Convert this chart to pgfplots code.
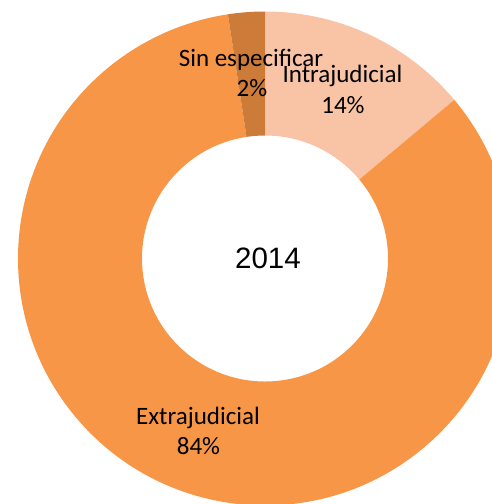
\documentclass[border=0pt]{standalone}
\usepackage{pgfplots}
\pgfplotsset{compat=1.18}
\usepackage{pgfplotstable}
\usepackage{fontspec}
\setmainfont{Carlito}
\newfontfamily\arialfont{Liberation Sans}
\definecolor{cIntra}{RGB}{249,195,166}
\definecolor{cExtra}{RGB}{247,150,70}
\definecolor{cSin}{RGB}{204,123,56}
\pgfplotstableread{
label value
Intrajudicial 13.9
Extrajudicial 83.7
Sin 2.4
}\slices
\begin{document}
\begin{tikzpicture}
\pgfplotstablegetelem{0}{value}\of\slices \let\vA\pgfplotsretval
\pgfplotstablegetelem{1}{value}\of\slices \let\vB\pgfplotsretval
\pgfplotstablegetelem{2}{value}\of\slices \let\vC\pgfplotsretval
\pgfmathsetmacro\aA{90}
\pgfmathsetmacro\aB{\aA-3.6*\vA}
\pgfmathsetmacro\aC{\aB-3.6*\vB}
\pgfmathsetmacro\aD{\aC-3.6*\vC}
\begin{axis}[
  x=1pt, y=1pt, xmin=0, xmax=492, ymin=0, ymax=504,
  hide axis, clip=true, scale only axis,
]
\addplot[draw=none] coordinates {(0,0) (492,504)};
\fill[cIntra, shift={(axis cs:265,245.5)}] (\aA:247pt) arc[start angle=\aA, end angle=\aB, radius=247pt] -- (\aB:123pt) arc[start angle=\aB, end angle=\aA, radius=123pt] -- cycle;
\fill[cExtra, shift={(axis cs:265,245.5)}] (\aB:247pt) arc[start angle=\aB, end angle=\aC, radius=247pt] -- (\aC:123pt) arc[start angle=\aC, end angle=\aB, radius=123pt] -- cycle;
\fill[cSin, shift={(axis cs:265,245.5)}] (\aC:247pt) arc[start angle=\aC, end angle=\aD, radius=247pt] -- (\aD:123pt) arc[start angle=\aD, end angle=\aC, radius=123pt] -- cycle;
\begin{scope}[every node/.style={inner sep=0pt, anchor=base, font=\fontsize{25}{30}\selectfont}]
\node at (axis cs:251,437.3) {Sin especificar};
\node at (axis cs:252,407.3) {2\%};
\node at (axis cs:342.5,421) {Intrajudicial};
\node at (axis cs:343,390) {14\%};
\node at (axis cs:198,79) {Extrajudicial};
\node at (axis cs:198.5,49) {84\%};
\end{scope}
\node[inner sep=0pt, anchor=base, font=\arialfont\fontsize{29.5}{35}\selectfont] at (axis cs:268,235.7) {2014};
\end{axis}
\pgfresetboundingbox
\useasboundingbox (current axis.south west) rectangle (current axis.north east);
\end{tikzpicture}
\end{document}
